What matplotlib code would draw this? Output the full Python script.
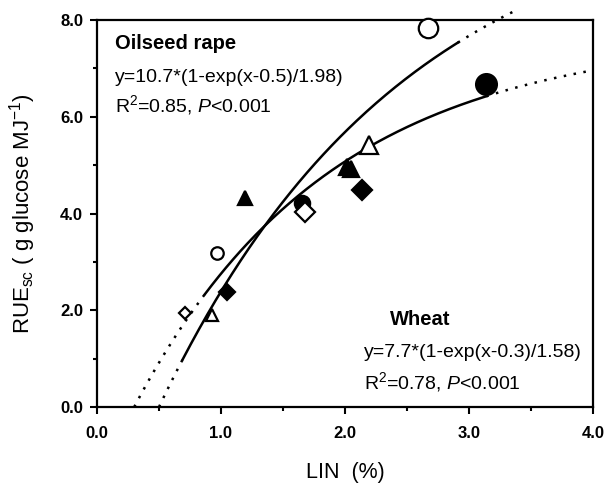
import numpy as np
import matplotlib
matplotlib.use("Agg")
import matplotlib.pyplot as plt

plt.rcParams['font.family'] = ['Liberation Sans', 'DejaVu Sans']
plt.rcParams['mathtext.fontset'] = 'custom'
plt.rcParams['mathtext.rm'] = 'Liberation Sans'
plt.rcParams['mathtext.it'] = 'Liberation Sans:italic'
plt.rcParams['mathtext.bf'] = 'Liberation Sans:bold'

# data points: (x, y, marker, filled, size)
pt_x = [2.67, 3.14, 2.19, 2.02, 2.05, 2.14, 1.19, 1.65, 1.68, 0.97, 1.05, 0.71, 0.93]
pt_y = [7.83, 6.67, 5.41, 4.96, 4.92, 4.48, 4.32, 4.21, 4.03, 3.18, 2.38, 1.94, 1.90]
pt_marker = ['o', 'o', '^', '^', '^', 'D', '^', 'o', 'D', 'o', 'D', 'D', '^']
pt_filled = [False, True, False, True, True, True, True, True, False, False, True, False, False]
pt_size = [14, 15, 13, 12, 12, 10, 10, 11, 10, 9, 8, 6, 9]

# fitted curves
rape_a, rape_x0, rape_b = 10.7, 0.5, 1.98
wheat_a, wheat_x0, wheat_b = 7.7, 0.3, 1.58
rape_solid = (0.69, 2.91)
rape_range = (0.5, 3.35)
wheat_solid = (0.87, 3.14)
wheat_range = (0.3, 4.0)

def f(x, a, x0, b):
    return a * (1 - np.exp(-(x - x0) / b))

fig = plt.figure(figsize=(6.08, 4.88), dpi=100)
ax = fig.add_axes([97/608, 1-407/488, (593-97)/608, (407-20)/488])

lw = 1.8
for a, x0, b, solid, rng in [(rape_a, rape_x0, rape_b, rape_solid, rape_range),
                              (wheat_a, wheat_x0, wheat_b, wheat_solid, wheat_range)]:
    xs = np.linspace(solid[0], solid[1], 200)
    ax.plot(xs, f(xs, a, x0, b), color='black', lw=lw, zorder=2)
    xl = np.linspace(rng[0], solid[0], 50)
    ax.plot(xl, f(xl, a, x0, b), color='black', lw=lw, ls=(0, (1, 3)), zorder=2)
    xr = np.linspace(solid[1], rng[1], 80)
    ax.plot(xr, f(xr, a, x0, b), color='black', lw=lw, ls=(0, (1, 3)), zorder=2, clip_on=False)

for x, y, m, fl, s in zip(pt_x, pt_y, pt_marker, pt_filled, pt_size):
    ax.plot(x, y, marker=m, ms=s, mfc='black' if fl else 'white', mec='black',
            mew=1.6, ls='none', zorder=3, clip_on=False)

ax.set_xlim(0, 4)
ax.set_ylim(0, 8)
ax.set_xticks([0, 1, 2, 3, 4])
ax.set_xticklabels(['0.0', '1.0', '2.0', '3.0', '4.0'])
ax.set_yticks([0, 2, 4, 6, 8])
ax.set_yticklabels(['0.0', '2.0', '4.0', '6.0', '8.0'])
ax.set_xticks(np.arange(0, 4.01, 0.5), minor=True)
ax.set_yticks(np.arange(0, 8.01, 1), minor=True)
ax.tick_params(which='both', direction='out', width=1.5, top=False, right=False)
ax.tick_params(which='major', length=5, labelsize=12)
ax.tick_params(which='minor', length=3)
ax.tick_params(axis='x', which='major', pad=9)
ax.tick_params(axis='y', which='major', pad=5)
for lab in ax.get_xticklabels() + ax.get_yticklabels():
    lab.set_fontweight('bold')
for s in ax.spines.values():
    s.set_linewidth(1.6)

ax.set_xlabel('LIN  (%)', fontsize=15.5, labelpad=15)
ax.set_ylabel(r'RUE$_{\mathrm{sc}}$ ( g glucose MJ$^{\mathrm{-1}}$)', fontsize=16, labelpad=16)

ax.text(0.145, 7.52, 'Oilseed rape', fontsize=14.5, fontweight='bold', va='center')
ax.text(0.145, 6.82, 'y=10.7*(1-exp(x-0.5)/1.98)', fontsize=14, va='center')
ax.text(0.145, 6.24, r'R$^{\mathrm{2}}$=0.85, $\it{P}$<0.001', fontsize=14, va='center')

ax.text(2.363, 1.80, 'Wheat', fontsize=14.5, fontweight='bold', va='center')
ax.text(2.153, 1.12, 'y=7.7*(1-exp(x-0.3)/1.58)', fontsize=14, va='center')
ax.text(2.153, 0.52, r'R$^{\mathrm{2}}$=0.78, $\it{P}$<0.001', fontsize=14, va='center')

fig.savefig('out.png', dpi=100)
